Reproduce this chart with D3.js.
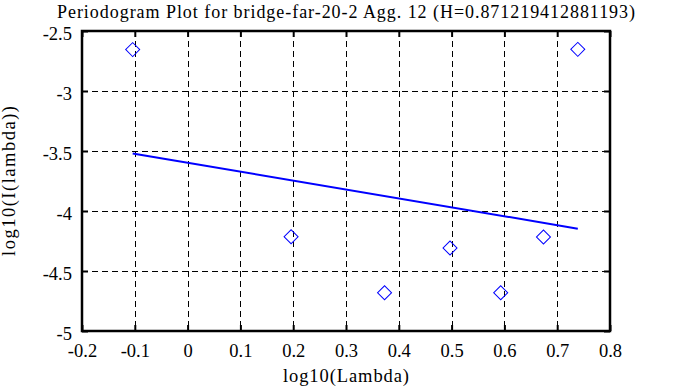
<!DOCTYPE html>
<html lang="en">
<head>
    <meta charset="UTF-8">
    <title>Periodogram Plot</title>
    <script type="text/javascript" src="https://d3js.org/d3.v7.min.js"></script>
    <style>
        body { margin: 0; background: #fff; }
        svg text { font-family: "Liberation Serif", "Times New Roman", serif; fill: #000; }
        .grid line { stroke: #000; stroke-width: 1; stroke-dasharray: 6,4; }
    </style>
</head>
<body>
    <div id="chart"></div>
    <script type="text/javascript">

        // periodogram points (log10 lambda, log10 I(lambda))
        var logLambda = [-0.104, 0.196, 0.373, 0.497, 0.593, 0.674, 0.739];
        var logI = [-2.655, -4.214, -4.681, -4.308, -4.681, -4.217, -2.653];

        // fitted line end points
        var fitX = [-0.104, 0.739];
        var fitY = [-3.52, -4.147];

        var xTicks = [-0.2, -0.1, 0, 0.1, 0.2, 0.3, 0.4, 0.5, 0.6, 0.7, 0.8];
        var yTicks = [-5, -4.5, -4, -3.5, -3, -2.5];

        var titleText = "Periodogram Plot for bridge-far-20-2 Agg. 12 (H=0.871219412881193)";

        var w = 683,
            h = 387;
        var pLeft = 82, pRight = 610, pTop = 31, pBottom = 331;
        var serif = "Liberation Serif, Times New Roman, serif";

        var svg = d3.select("#chart")
            .append("svg")
            .attr("width", w)
            .attr("height", h);

        var x = d3.scaleLinear().domain([-0.2, 0.8]).range([pLeft, pRight]);
        var y = d3.scaleLinear().domain([-5, -2.5]).range([pBottom, pTop]);

        //grid
        var grid = svg.append("g").attr("class", "grid");
        grid.selectAll(".gx")
            .data(xTicks.slice(1, -1))
            .enter()
            .append("line")
            .attr("x1", function(d) { return Math.round(x(d)) + 0.5; })
            .attr("x2", function(d) { return Math.round(x(d)) + 0.5; })
            .attr("y1", pTop)
            .attr("y2", pBottom);
        grid.selectAll(".gy")
            .data(yTicks.slice(1, -1))
            .enter()
            .append("line")
            .attr("y1", function(d) { return Math.round(y(d)) + 0.5; })
            .attr("y2", function(d) { return Math.round(y(d)) + 0.5; })
            .attr("x1", pLeft)
            .attr("x2", pRight);

        // axes with inward ticks
        var fmt = function(d) { return String(+d.toFixed(1)); };
        var xAxis = svg.append("g")
            .attr("transform", "translate(0," + pBottom + ")")
            .call(d3.axisBottom(x).tickValues(xTicks).tickSizeInner(-6).tickSizeOuter(0).tickPadding(13).tickFormat(fmt));
        var xAxisTop = svg.append("g")
            .attr("transform", "translate(0," + pTop + ")")
            .call(d3.axisTop(x).tickValues(xTicks).tickSizeInner(-6).tickSizeOuter(0).tickFormat(""));
        var yAxis = svg.append("g")
            .attr("transform", "translate(" + pLeft + ",0)")
            .call(d3.axisLeft(y).tickValues(yTicks).tickSizeInner(-6).tickSizeOuter(0).tickPadding(10).tickFormat(fmt));
        var yAxisRight = svg.append("g")
            .attr("transform", "translate(" + pRight + ",0)")
            .call(d3.axisRight(y).tickValues(yTicks).tickSizeInner(-6).tickSizeOuter(0).tickFormat(""));

        svg.selectAll(".tick line").attr("stroke", "#000").attr("stroke-width", 2);
        svg.selectAll(".domain").remove();
        [xAxis, yAxis].forEach(function(a) {
            a.attr("font-family", serif).attr("font-size", 18.5);
        });
        svg.selectAll(".tick text")
            .style("font-family", serif)
            .style("font-size", "18.5px")
            .attr("fill", "#000");
        yAxis.selectAll(".tick text").attr("dy", "0.45em");

        // frame
        svg.append("rect")
            .attr("x", pLeft)
            .attr("y", pTop)
            .attr("width", pRight - pLeft)
            .attr("height", pBottom - pTop)
            .attr("fill", "none")
            .attr("stroke", "#000")
            .attr("stroke-width", 2.5);

        // fit line
        svg.append("line")
            .attr("x1", x(fitX[0]))
            .attr("y1", y(fitY[0]))
            .attr("x2", x(fitX[1]))
            .attr("y2", y(fitY[1]))
            .attr("stroke", "#0000ff")
            .attr("stroke-width", 2);

        // diamonds
        var pts = logLambda.map(function(d, i) { return {x: d, y: logI[i]}; });
        svg.selectAll(".pt")
            .data(pts)
            .enter()
            .append("path")
            .attr("class", "pt")
            .attr("d", d3.symbol().type(d3.symbolSquare).size(98))
            .attr("transform", function(d) { return "translate(" + x(d.x) + "," + y(d.y) + ") rotate(45)"; })
            .attr("fill", "none")
            .attr("stroke", "#0000ff")
            .attr("stroke-width", 1);

        // labels
        svg.append("text")
            .attr("x", (pLeft + pRight) / 2)
            .attr("y", 18)
            .attr("text-anchor", "middle")
            .attr("font-size", "18px")
            .attr("textLength", 578)
            .attr("lengthAdjust", "spacing")
            .text(titleText);

        svg.append("text")
            .attr("x", (pLeft + pRight) / 2)
            .attr("y", 382)
            .attr("text-anchor", "middle")
            .attr("font-size", "18.5px")
            .attr("textLength", 126)
            .attr("lengthAdjust", "spacing")
            .text("log10(Lambda)");

        svg.append("text")
            .attr("transform", "translate(15," + (pTop + pBottom) / 2 + ") rotate(-90)")
            .attr("text-anchor", "middle")
            .attr("font-size", "18.5px")
            .attr("textLength", 150)
            .attr("lengthAdjust", "spacing")
            .text("log10(I(lambda))");
    </script>
</body>
</html>
